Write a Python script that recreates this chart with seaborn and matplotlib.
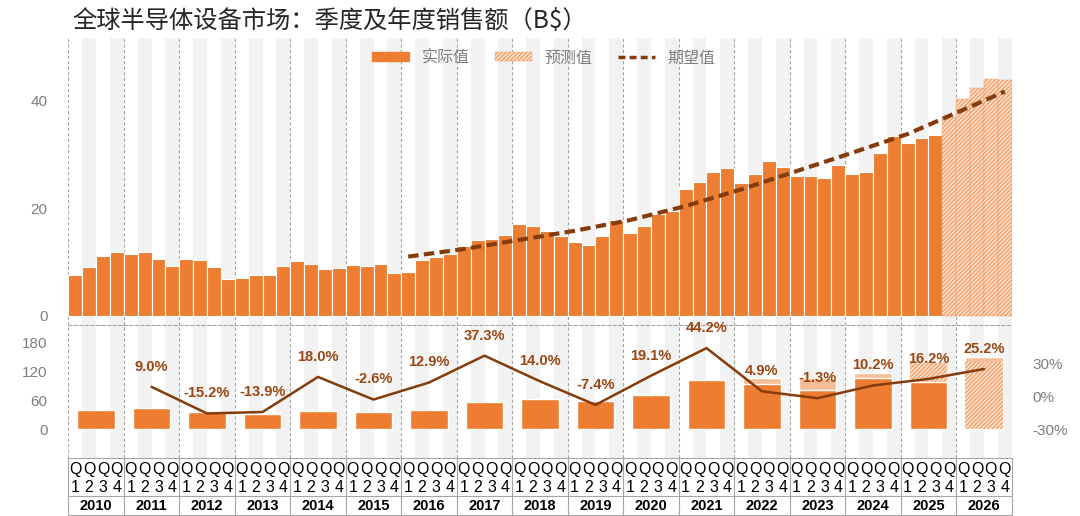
import numpy as np
import pandas as pd
import matplotlib.pyplot as plt
import seaborn as sns
from matplotlib.patches import Patch
from matplotlib.lines import Line2D

# Quarterly sales (B$), 2010Q1 .. 2026Q4; last five quarters are forecasts
years = list(range(2010, 2027))
quarterly = [
    7.6, 9.1, 11.1, 11.8,     # 2010
    11.5, 11.8, 10.5, 9.2,    # 2011
    10.6, 10.3, 9.0, 6.8,     # 2012
    7.1, 7.5, 7.5, 9.2,       # 2013
    10.1, 9.6, 8.7, 8.8,      # 2014
    9.4, 9.3, 9.6, 7.9,       # 2015
    8.2, 10.4, 10.9, 11.5,    # 2016
    13.0, 14.1, 14.3, 15.1,   # 2017
    17.0, 16.6, 15.8, 14.9,   # 2018
    13.8, 13.2, 14.8, 17.8,   # 2019
    15.4, 16.7, 19.0, 19.5,   # 2020
    23.5, 24.8, 26.7, 27.5,   # 2021
    24.6, 26.3, 28.7, 27.7,   # 2022
    25.9, 25.9, 25.6, 28.0,   # 2023
    26.3, 26.7, 30.3, 33.4,   # 2024
    32.1, 33.0, 33.6, 37.0,   # 2025
    40.3, 42.3, 44.0, 43.8,   # 2026
]
n_actual = 63  # actual data through 2025Q3

# Expected (trend) line, read at Q1 of 2016..2026 and at 2026Q4
exp_quarter = [24, 28, 32, 36, 40, 44, 48, 52, 56, 60, 64, 67]
exp_values = [11.0, 12.4, 14.1, 15.8, 17.8, 20.4, 23.5, 26.9, 30.3, 33.8, 38.3, 41.7]

# Annual totals (B$)
annual_years = list(range(2010, 2026))
annual_actual = [40.1, 43.6, 36.0, 31.1, 37.4, 36.0, 40.1, 56.8,
                 63.7, 58.8, 70.6, 101.8, 94.9, 81.7, 107.3, 99.0]
light_years = [2022, 2023, 2024, 2026]
light_values = [106.7, 106.0, 116.4, 151.0]
fcst_years = [2025, 2026]
fcst_values = [137.2, 140.5]

# YoY growth (%)
growth_years = list(range(2011, 2027))
growth = [9.0, -15.2, -13.9, 18.0, -2.6, 12.9, 37.3, 14.0,
          -7.4, 19.1, 44.2, 4.9, -1.3, 10.2, 16.2, 25.2]

ORANGE = '#ED7D31'
LIGHT = '#F6BE98'
HATCH_FC = '#FBDDC8'
HATCH_EC = '#F19A5C'
BROWN = '#843C0C'
LABEL_BROWN = '#9A4612'
GREY_TXT = '#7F7F7F'
STRIPE = '#F2F2F2'
DIV = '#A6A6A6'
HATCH = '////////'

sns.set_style('white')
plt.rcParams['font.family'] = ['Liberation Sans', 'Noto Sans CJK SC']
plt.rcParams['hatch.linewidth'] = 0.8
CJK = ['Noto Sans CJK SC', 'DejaVu Sans']


def year_pos(y):
    return (y - 2010) * 4 + 1.5


fig = plt.figure(figsize=(10.8, 5.16), dpi=100)
ax1 = fig.add_axes([0.0632, 0.3707, 0.8736, 0.5551])
ax2 = fig.add_axes([0.0632, 0.1124, 0.8736, 0.2583])
ax3 = fig.add_axes([0.0632, 0.0019, 0.8736, 0.1105])

nq = len(quarterly)
for ax in (ax1, ax2):
    for i in range(nq):
        if i % 4 in (1, 3):
            ax.axvspan(i - 0.5, i + 0.5, color=STRIPE, lw=0, zorder=0)
    for k in range(len(years) + 1):
        ax.axvline(4 * k - 0.5, color=DIV, lw=0.8, ls=(0, (3, 2)), zorder=0.5)

# --- top panel: quarterly bars
qdf = pd.DataFrame({'q': np.arange(nq), 'sales': quarterly})
n0 = len(ax1.patches)
sns.barplot(data=qdf, x='q', y='sales', color=ORANGE, saturation=1, width=1,
            edgecolor='white', linewidth=0.8, errorbar=None, ax=ax1)
bars = ax1.patches[n0:]
for p in bars[n_actual:]:
    p.set_facecolor(HATCH_FC)
    p.set_edgecolor(HATCH_EC)
    p.set_hatch(HATCH)
    p.set_linewidth(0.3)

sns.lineplot(x=exp_quarter, y=exp_values, ax=ax1, color=BROWN, lw=3)
ax1.lines[-1].set_dashes([2.5, 1.3])

ax1.set_xlim(-0.5, nq - 0.5)
ax1.set_ylim(-1.67, 51.6)
ax1.set_yticks([0, 20, 40])
ax1.set_xticks([])
ax1.set_xlabel('')
ax1.set_ylabel('')
ax1.tick_params(axis='y', length=0, pad=15, labelsize=11, labelcolor=GREY_TXT)
for s in ax1.spines.values():
    s.set_visible(False)

handles = [
    Patch(facecolor=ORANGE, edgecolor=ORANGE),
    Patch(facecolor=HATCH_FC, edgecolor=HATCH_EC, hatch=HATCH, lw=0.3),
    Line2D([], [], color=BROWN, lw=2.5, ls=(0, (2, 1.2))),
]
leg = ax1.legend(handles, ['实际值', '预测值', '期望值'], loc='center',
                 bbox_to_anchor=(0.504, 0.931), ncol=3, frameon=False,
                 handlelength=2.3, handleheight=0.5, columnspacing=1.6,
                 prop={'family': CJK, 'size': 11.5})
for t in leg.get_texts():
    t.set_color(GREY_TXT)

# --- bottom panel: annual bars + growth line
sns.barplot(x=[year_pos(y) for y in light_years], y=light_values, color=LIGHT,
            saturation=1, native_scale=True, width=0.67, errorbar=None, ax=ax2)
start = len(ax2.patches)
sns.barplot(x=[year_pos(y) for y in fcst_years], y=fcst_values, color=HATCH_FC,
            saturation=1, native_scale=True, width=0.67, errorbar=None, ax=ax2)
for p in ax2.patches[start:]:
    p.set_edgecolor(HATCH_EC)
    p.set_hatch(HATCH)
    p.set_linewidth(0)
sns.barplot(x=[year_pos(y) for y in annual_years], y=annual_actual, color=ORANGE,
            saturation=1, native_scale=True, width=0.67, errorbar=None, ax=ax2)

ax2.set_xlim(-0.5, nq - 0.5)
ax2.set_ylim(-60, 217.5)
ax2.set_yticks([0, 60, 120, 180])
ax2.set_xticks([])
ax2.set_xlabel('')
ax2.set_ylabel('')
ax2.tick_params(axis='y', length=0, pad=15, labelsize=11, labelcolor=GREY_TXT)
for name, s in ax2.spines.items():
    s.set_visible(name == 'top')
ax2.spines['top'].set_color(DIV)
ax2.spines['top'].set_linewidth(0.8)
ax2.spines['top'].set_linestyle((0, (3, 2)))

ax2r = ax2.twinx()
gx = [year_pos(y) for y in growth_years]
sns.lineplot(x=gx, y=growth, ax=ax2r, color=BROWN, lw=1.8)
for x, g in zip(gx, growth):
    ax2r.annotate(f'{g:.1f}%', (x, g), xytext=(0, 14.5), textcoords='offset points',
                  ha='center', va='center', fontsize=10.5, fontweight='bold',
                  color=LABEL_BROWN)
ax2r.set_ylim(-55.7, 65.45)
ax2r.set_yticks([-30, 0, 30])
ax2r.set_yticklabels(['-30%', '0%', '30%'])
ax2r.set_ylabel('')
ax2r.set_xlim(-0.5, nq - 0.5)
ax2r.set_xticks([])
ax2r.tick_params(axis='y', length=0, pad=15, labelsize=11, labelcolor=GREY_TXT)
for s in ax2r.spines.values():
    s.set_visible(False)

# --- x-axis table: quarters and years
ax3.set_xlim(-0.5, nq - 0.5)
ax3.set_ylim(0, 1)
ax3.axis('off')
for yy in (0.999, 0.339, 0.005):
    ax3.axhline(yy, color=DIV, lw=0.8, clip_on=False)
ax3.vlines([4 * k - 0.5 for k in range(len(years) + 1)], 0, 1, color=DIV, lw=0.8,
           clip_on=False)
for i in range(nq):
    ax3.text(i, 0.79, 'Q', ha='center', va='center', fontsize=11.5, color='black')
    ax3.text(i, 0.49, str(i % 4 + 1), ha='center', va='center', fontsize=11.5,
             color='black')
for y in years:
    ax3.text(year_pos(y), 0.165, str(y), ha='center', va='center', fontsize=10.5,
             fontweight='bold', color='black')

fig.text(72 / 1080, 1 - 21 / 516, '全球半导体设备市场：季度及年度销售额（B$）',
         ha='left', va='center', fontsize=17.5, color='#262626', family=CJK)

fig.savefig('out.png', dpi=100)
